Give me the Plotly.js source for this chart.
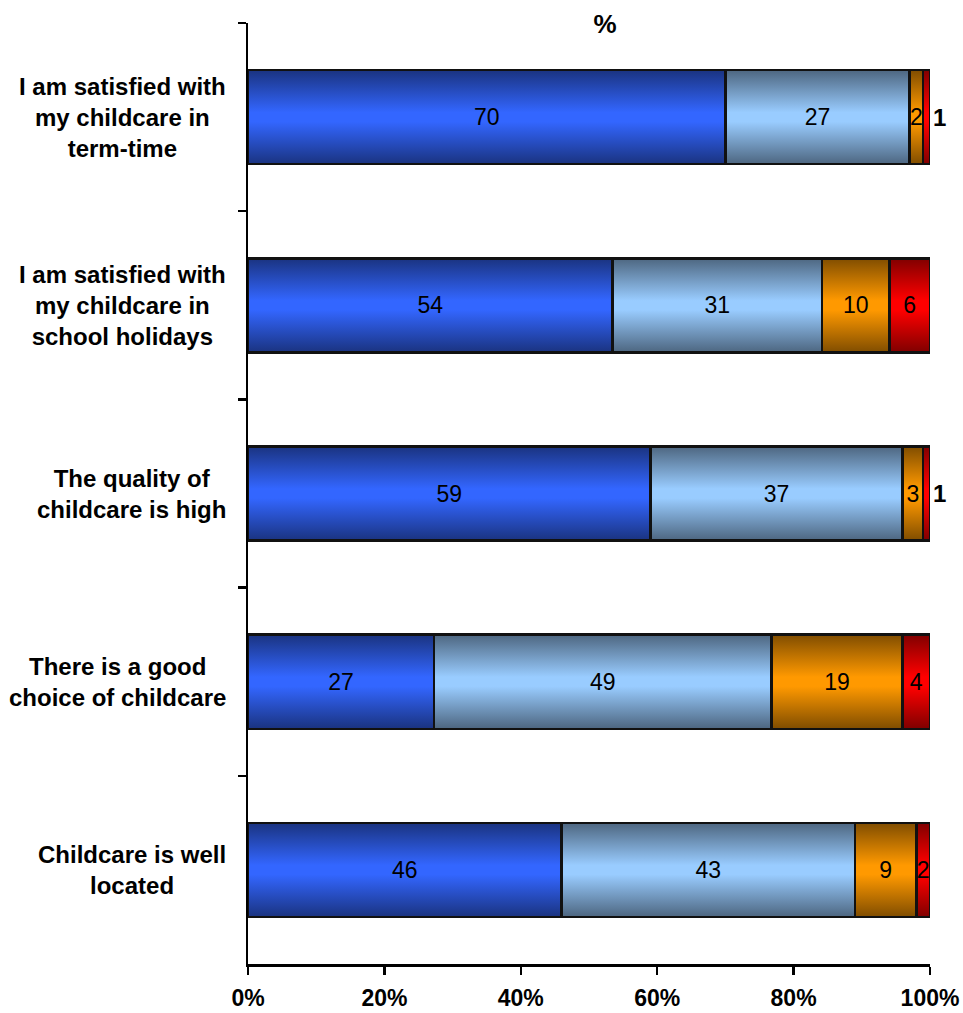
<!DOCTYPE html>
<html><head><meta charset="utf-8">
<script src="https://cdn.plot.ly/plotly-3.0.1.min.js"></script>
<style>html,body{margin:0;padding:0;background:#fff}#chart{width:963px;height:1013px}</style>
</head><body><div id="chart"></div>
<script>
const categories = [
  "I am satisfied with<br>my childcare in<br>term-time",
  "I am satisfied with<br>my childcare in<br>school holidays",
  "The quality of<br>childcare is high",
  "There is a good<br>choice of childcare",
  "Childcare is well<br>located"
];
const seriesNames = ["Agree strongly", "Agree", "Disagree", "Disagree strongly"];
const agreeStrongly = [70, 54, 59, 27, 46];
const agree = [27, 31, 37, 49, 43];
const disagree = [2, 10, 3, 19, 9];
const disagreeStrongly = [1, 6, 1, 4, 2];
const lastTextPos = ["outside", "inside", "outside", "inside", "inside"];
const xTickVals = [0, 20, 40, 60, 80, 100];
const xTickText = ["0%", "20%", "40%", "60%", "80%", "100%"];
const titleText = "%";

const FONT = "Liberation Sans, Arial, sans-serif";
const seriesValues = [agreeStrongly, agree, disagree, disagreeStrongly];
const midColors = ["#3366FF", "#99CCFF", "#FF9900", "#FF0000"];
const edgeColors = ["#1A3380", "#4D6680", "#804D00", "#800000"];

const traces = seriesValues.map((vals, i) => ({
  type: "bar",
  orientation: "h",
  name: seriesNames[i],
  y: categories,
  x: vals,
  text: vals.map(String),
  texttemplate: "%{text}",
  textposition: i === 3 ? lastTextPos : "inside",
  insidetextanchor: "middle",
  textangle: 0,
  constraintext: "none",
  cliponaxis: false,
  insidetextfont: {family: FONT, size: 23, color: "#000"},
  outsidetextfont: {family: FONT, size: 24, color: "#000", weight: "bold"},
  marker: {color: midColors[i], line: {color: "#111", width: 2.5}},
  hoverinfo: "x+y+name"
}));

const annotations = categories.map(c => ({
  text: c, xref: "paper", x: 0, xanchor: "right", xshift: -20,
  yref: "y", y: c, yanchor: "middle", align: "center", showarrow: false,
  font: {family: FONT, size: 24, color: "#000", weight: "bold"}
}));

const layout = {
  width: 963, height: 1013,
  margin: {l: 248, r: 33, t: 23, b: 49},
  paper_bgcolor: "#fff", plot_bgcolor: "#fff",
  showlegend: false,
  barmode: "stack", barnorm: "percent", bargap: 0.5,
  title: {text: titleText, x: 605/963, xanchor: "center", y: 1 - 24/1013, yanchor: "middle",
          font: {family: FONT, size: 26, color: "#000", weight: "bold"}},
  xaxis: {
    range: [0, 100.001], tickvals: xTickVals, ticktext: xTickText,
    showgrid: false, zeroline: false, showline: true, linecolor: "#000", linewidth: 2.5,
    ticks: "outside", ticklen: 8, tickwidth: 2.5, tickcolor: "#000",
    ticklabelstandoff: 4,
    tickfont: {family: FONT, size: 23, color: "#000", weight: "bold"}
  },
  yaxis: {
    type: "category", autorange: "reversed",
    showticklabels: false, tickson: "boundaries",
    showgrid: false, zeroline: false, showline: true, linecolor: "#000", linewidth: 2.5,
    ticks: "outside", ticklen: 8, tickwidth: 2.5, tickcolor: "#000"
  },
  annotations: annotations
};

Plotly.newPlot("chart", traces, layout, {displayModeBar: false, staticPlot: true}).then(gd => {
  const svg = gd.querySelector("svg.main-svg");
  let defs = svg.querySelector("defs");
  const NS = "http://www.w3.org/2000/svg";
  if (!defs) { defs = document.createElementNS(NS, "defs"); svg.prepend(defs); }
  midColors.forEach((mid, i) => {
    const g = document.createElementNS(NS, "linearGradient");
    g.setAttribute("id", "barGrad" + i);
    g.setAttribute("x1", "0"); g.setAttribute("y1", "0");
    g.setAttribute("x2", "0"); g.setAttribute("y2", "1");
    [[0, edgeColors[i]], [0.45, mid], [0.55, mid], [1, edgeColors[i]]].forEach(([o, c]) => {
      const s = document.createElementNS(NS, "stop");
      s.setAttribute("offset", o); s.setAttribute("stop-color", c);
      g.appendChild(s);
    });
    defs.appendChild(g);
  });
  gd.querySelectorAll(".barlayer .trace.bars").forEach((tr, i) => {
    tr.querySelectorAll(".point path").forEach(p => { p.style.fill = "url(#barGrad" + i + ")"; });
  });
});
</script>
</body></html>
